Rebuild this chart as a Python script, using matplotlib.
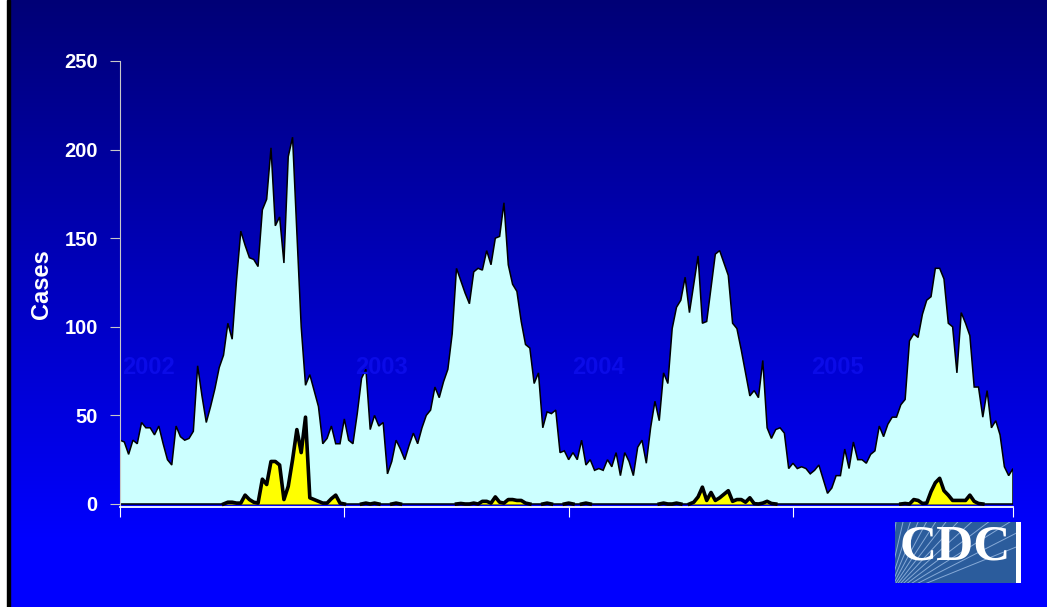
import numpy as np
import matplotlib.pyplot as plt
from matplotlib.patches import Rectangle

# weekly case counts, 2002-2005 (light cyan area)
cases = [
    36, 35, 28, 36, 34, 46, 43, 43, 39, 44,
    34, 25, 22, 44, 38, 36, 37, 41, 78, 61,
    46, 55, 65, 77, 84, 102, 93, 126, 154, 146,
    139, 138, 134, 166, 172, 201, 157, 162, 136, 196,
    207, 153, 100, 67, 73, 64, 55, 34, 37, 44,
    34, 34, 48, 36,
    34, 51, 71, 76, 42, 50, 44, 46, 17, 24,
    36, 31, 25, 33, 40, 34, 43, 50, 53, 66,
    60, 69, 76, 96, 133, 126, 119, 113, 131, 133,
    132, 143, 135, 150, 151, 170, 135, 124, 120, 103,
    90, 88, 68, 74, 43, 52, 51, 53, 29, 30,
    25, 29, 25, 36,
    22, 25, 19, 20, 19, 25, 21, 29, 16, 29,
    24, 16, 32, 36, 23, 43, 58, 47, 74, 68,
    99, 111, 115, 128, 108, 124, 140, 102, 103, 122,
    141, 143, 136, 129, 102, 99, 87, 74, 61, 64,
    60, 81, 43, 37, 42, 43, 40, 20, 23, 20,
    21, 20, 17,
    19, 22, 14, 6, 9, 16, 16, 31, 20, 35,
    25, 25, 23, 28, 30, 44, 38, 45, 49, 49,
    56, 59, 92, 96, 94, 107, 115, 117, 133, 133,
    127, 102, 100, 74, 108, 102, 95, 66, 66, 49,
    64, 43, 47, 39, 21, 16, 20,
]

# weekly subset (yellow area)
subset = [
    0, 0, 0, 0, 0, 0, 0, 0, 0, 0,
    0, 0, 0, 0, 0, 0, 0, 0, 0, 0,
    0, 0, 0, 0, 0, 1, 1, 0.5, 0.5, 5,
    2.5, 1, 0.5, 14, 11, 24, 24, 22, 2.5, 10,
    25, 42, 29, 49, 3.5, 2.5, 1.5, 0.5, 0.5, 3,
    5, 0.5, 0, 0, 0, 0, 0, 0.5, 0, 0.5,
    0, 0, 0, 0, 0.5, 0, 0, 0, 0, 0,
    0, 0, 0, 0, 0, 0, 0, 0, 0, 0.3,
    0, 0, 0.5, 0, 1.5, 1.5, 0.5, 4, 1, 0.5,
    2.5, 2.5, 2, 2, 0.5, 0, 0, 0, 0, 0.5,
    0, 0, 0, 0, 0.5, 0, 0, 0, 0.5, 0,
    0, 0, 0, 0, 0, 0, 0, 0, 0, 0,
    0, 0, 0, 0, 0, 0, 0.5, 0, 0, 0.5,
    0, 0, 0, 1, 4, 9.5, 2, 6.5, 2, 3.5,
    5.5, 7.5, 1.5, 2.5, 2.5, 1, 3.5, 0.2, 0, 0.5,
    1.5, 0.3, 0, 0, 0, 0, 0, 0, 0, 0,
    0, 0, 0, 0, 0, 0, 0, 0, 0, 0,
    0, 0, 0, 0, 0, 0, 0, 0, 0, 0,
    0, 0, 0.3, 0, 2.5, 2, 0.3, 0.5, 7, 12,
    14.5, 7.5, 5, 2, 2, 2, 2, 5, 1.5, 0.3,
    0, 0, 0, 0, 0, 0, 0, 0,
]

years = ["2002", "2003", "2004", "2005"]
year_ticks = [0, 52, 104, 156, 207]
year_label_x = [6.7, 60.7, 110.8, 166.4]
yticks = [0, 50, 100, 150, 200, 250]

W, H = 1047, 607
fig = plt.figure(figsize=(W / 100, H / 100), dpi=100)

# background: navy-to-blue gradient, white/black strip on the left
bg = fig.add_axes([0, 0, 1, 1])
bg.set_xlim(0, W)
bg.set_ylim(H, 0)
bg.axis('off')
rows = np.arange(H)
blue = np.clip(118 + 137 * rows / 540, 0, 255) / 255
img = np.zeros((H, 1, 3))
img[:, 0, 2] = blue
bg.imshow(img, extent=[10, W, H, 0], aspect='auto', interpolation='bilinear')
bg.add_patch(Rectangle((0, 0), 7, H, color='white'))
bg.add_patch(Rectangle((7, 0), 3, H, color='black'))

# CDC logo
logo = Rectangle((895, 522), 121, 61, fc='#2b5c9c', ec='none')
bg.add_patch(logo)
bg.add_patch(Rectangle((1016, 522), 5, 61, fc='white', ec='none'))
for a in np.linspace(22, 82, 13):
    r = np.deg2rad(a)
    ln, = bg.plot([885, 885 + 260 * np.cos(r)], [600, 600 - 260 * np.sin(r)],
                  color='#9dbde6', lw=0.7, alpha=0.8)
    ln.set_clip_path(logo)
bg.text(955, 547, "CDC", color='white', fontsize=37, fontweight='bold',
        family='Liberation Serif', ha='center', va='center')

# main chart
ax = fig.add_axes([120 / W, 100 / H, 893 / W, 446 / H])
ax.patch.set_visible(False)
x = np.arange(len(cases))
c = np.array(cases, dtype=float)
s = np.array(subset, dtype=float)

ax.fill(np.r_[x[0], x, x[-1]], np.r_[0, c, 0], fc='#CCFFFF', ec='black', lw=1.1,
        zorder=2)
ax.fill_between(x, s, color='#FFFF00', lw=0, zorder=3)
prev = np.r_[0, s[:-1]]
nxt = np.r_[s[1:], 0]
s_line = np.ma.masked_where((s == 0) & (prev == 0) & (nxt == 0), s)
ax.plot(x, s_line, color='black', lw=2.6, solid_joinstyle='round', zorder=4)

for lx, yr in zip(year_label_x, years):
    ax.text(lx, 77, yr, color='#0b0be8', fontsize=17, fontweight='bold',
            family='Liberation Sans', ha='center', va='center', zorder=5)

ax.set_xlim(0, len(cases) - 1)
ax.set_ylim(-1.7, 250)
ax.set_yticks(yticks)
ax.set_xticks(year_ticks)
ax.set_xticklabels([])
for sp in ['top', 'right']:
    ax.spines[sp].set_visible(False)
ax.spines['left'].set_color('#c8c8c8')
ax.spines['bottom'].set_color('white')
ax.spines['bottom'].set_linewidth(1.3)
ax.tick_params(axis='y', direction='out', length=7, color='#c8c8c8',
               labelcolor='white', labelsize=14.5, pad=9)
ax.tick_params(axis='x', direction='out', length=7, color='white')
for lab in ax.get_yticklabels():
    lab.set_fontweight('bold')
    lab.set_family('Liberation Sans')

ax.set_ylabel("Cases", color='white', fontsize=17, fontweight='bold',
              family='Liberation Sans')
ax.yaxis.set_label_coords(-0.075, 0.5)

fig.savefig("out.png", dpi=100)
